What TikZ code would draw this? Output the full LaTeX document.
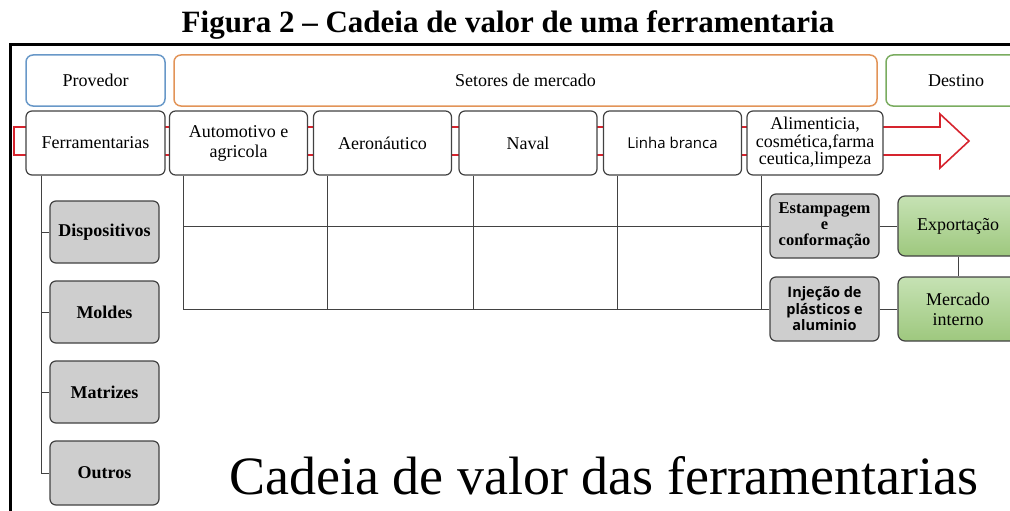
\documentclass[tikz,border=0pt]{standalone}
\usepackage{fontspec}
\setmainfont{Liberation Serif}
\newfontfamily\uisans{Open Sans}
\usepackage{tikz}
\definecolor{P}{RGB}{104,152,200}
\definecolor{S}{RGB}{226,148,88}
\definecolor{D}{RGB}{122,172,96}
\definecolor{R}{RGB}{214,36,46}
\definecolor{K}{RGB}{66,66,66}
\definecolor{G}{RGB}{206,206,206}
\definecolor{Vt}{RGB}{198,226,180}
\definecolor{Vb}{RGB}{158,200,126}
\tikzset{
  head/.style={draw=#1, line width=1.5pt, rounded corners=7pt, minimum height=51pt, inner sep=0pt,
    font=\rmfamily\fontsize{18}{20}\selectfont},
  cell/.style={draw=K, fill=white, line width=1.2pt, rounded corners=6pt, minimum width=138pt,
    minimum height=64pt, inner sep=0pt, align=center, font=\rmfamily\fontsize{18}{20}\selectfont},
  part/.style={draw=K, fill=G, line width=1.2pt, rounded corners=6pt, minimum width=109pt,
    minimum height=62pt, inner sep=0pt, align=center, font=\rmfamily\bfseries\fontsize{18}{20}\selectfont},
  dest/.style={draw=K, top color=Vt, bottom color=Vb, line width=1.2pt, rounded corners=7pt,
    minimum width=120pt, inner sep=0pt, align=center, font=\rmfamily\fontsize{18}{20}\selectfont},
  conn/.style={draw=K, line width=1pt},
}
\newcommand{\drawframe}{\draw[line width=2.6pt] (1010,44.5)--(10.5,44.5)--(10.5,511);}

\begin{document}
\begin{tikzpicture}[x=1pt,y=-1pt]
\useasboundingbox (0,0) rectangle (1010,511);
\clip (0,0) rectangle (1010,511);
\node[font=\rmfamily\bfseries\fontsize{31}{33}\selectfont, anchor=base] (title) at (508,33)
  {Figura 2 – Cadeia de valor de uma ferramentaria};
\drawframe
% seta vermelha atras da linha de setores
\draw[R, line width=1.6pt] (14,127)--(940,127)--(940,114)--(969,141)--(940,168)--(940,155)--(14,155)--cycle;

% cabecalho
\node[head=P, minimum width=139pt] (prov) at (95.5,80.5) {Provedor};
\node[head=S, minimum width=703pt] (set) at (525.5,80.5) {Setores de mercado};
\node[head=D, minimum width=140pt] (dest) at (956,80.5) {Destino};

% setores
\node[cell, minimum width=139pt] (ferr) at (95.5,143) {Ferramentarias};
\node[cell] (auto) at (238.5,143) {Automotivo e\\agricola};
\node[cell] (aero) at (382.5,143) {Aeronáutico};
\node[cell] (naval) at (528,143) {Naval};
\node[cell, font=\uisans\fontsize{15}{18}\selectfont] (linha) at (672.5,143) {Linha branca};
\node[cell, minimum width=136pt, font=\rmfamily\fontsize{18}{17.5}\selectfont] (alim) at (815,143)
  {Alimenticia,\\cosmética,farma\\ceutica,limpeza};

% produtos da ferramentaria
\node[part] (disp) at (104.5,232) {Dispositivos};
\node[part] (mold) at (104.5,312) {Moldes};
\node[part] (matr) at (104.5,392) {Matrizes};
\node[part, minimum height=64pt] (outr) at (104.5,473) {Outros};

% processos e destino
\node[part, minimum height=64pt, font=\rmfamily\bfseries\fontsize{16.5}{16}\selectfont] (estamp) at (824.5,226)
  {Estampagem\\e\\conformação};
\node[part, minimum height=64pt, font=\uisans\bfseries\fontsize{14.5}{16.5}\selectfont] (inj) at (824.5,309)
  {Injeção de\\plásticos e\\aluminio};
\node[dest, minimum height=60pt] (export) at (958,226) {Exportação};
\node[dest, minimum height=64pt] (merc) at (958,309) {Mercado\\interno};

\foreach \n in {disp,mold,matr,outr}
  \draw[conn] ([xshift=16pt]ferr.south west) |- (\n.west);
\foreach \n in {auto,aero,naval,linha,alim}
  \draw[conn] ([xshift=15pt]\n.south west) -- ([xshift=15pt]\n.south west |- inj.west);
\draw[conn] ([xshift=15pt]auto.south west) |- (inj.west);
\draw[conn] ([xshift=15pt]auto.south west |- estamp.west) -- (estamp.west);
\draw[conn] (estamp) -- (export);
\draw[conn] (inj) -- (merc);
\draw[conn] (export) -- (merc);

\node[font=\rmfamily\fontsize{54}{60}\selectfont, anchor=base] (capt) at (604,494)
  {Cadeia de valor das ferramentarias};
\end{tikzpicture}
\end{document}
